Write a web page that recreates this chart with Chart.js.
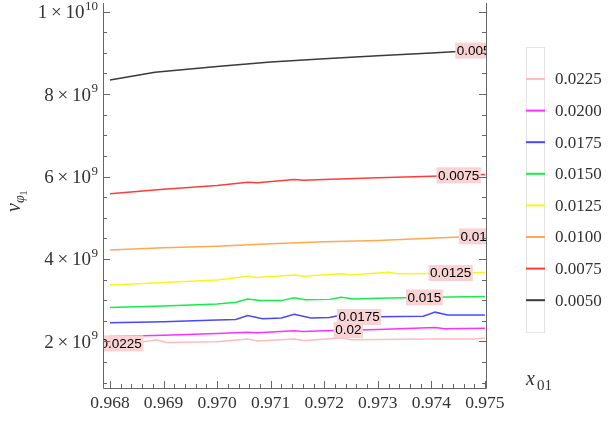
<!DOCTYPE html>
<html>
<head>
<meta charset="utf-8">
<script src="https://cdn.jsdelivr.net/npm/chart.js@4.4.0/dist/chart.umd.min.js"></script>
<style>
  html, body { margin: 0; padding: 0; background: #fff; }
  #wrap { width: 613px; height: 421px; position: relative; }
</style>
</head>
<body>
<div id="wrap"><canvas id="c"></canvas></div>
<script>
// contour values (legend order) and colours
const levels = ['0.0225', '0.0200', '0.0175', '0.0150', '0.0125', '0.0100', '0.0075', '0.0050'];
const tags   = ['0.0225', '0.02', '0.0175', '0.015', '0.0125', '0.01', '0.0075', '0.005'];
const colors = ['#ffbcbc', '#ff30ff', '#4848ff', '#18ec48', '#f6f61a', '#ffa850', '#ff3c3c', '#3a3a3a'];
// x position of each in-plot label (x01 units)
const tagAt  = [0.96821, 0.97245, 0.97265, 0.97387, 0.97436, 0.97479, 0.97451, 0.97479];

// series: x01 values and v (in units of 1e9)
const x_0225 = [0.968, 0.9685, 0.96888, 0.96905, 0.970, 0.97057, 0.97075, 0.97144, 0.97162, 0.97232, 0.9725, 0.974, 0.9748, 0.975];
const v_0225 = [1.94, 1.97, 2.04, 1.975, 1.99, 2.06, 2.01, 2.06, 2.02, 2.08, 2.04, 2.06, 2.06, 2.08];
const x_0200 = [0.968, 0.969, 0.970, 0.97057, 0.97075, 0.97144, 0.9716, 0.972, 0.973, 0.97407, 0.97425, 0.975];
const v_0200 = [2.12, 2.15, 2.19, 2.22, 2.21, 2.26, 2.24, 2.26, 2.29, 2.34, 2.31, 2.32];
const x_0175 = [0.968, 0.969, 0.970, 0.97035, 0.97057, 0.97085, 0.9712, 0.97144, 0.97175, 0.9721, 0.97232, 0.97255, 0.973, 0.97385, 0.97407, 0.9743, 0.975];
const v_0175 = [2.45, 2.48, 2.52, 2.53, 2.63, 2.55, 2.57, 2.66, 2.57, 2.58, 2.64, 2.59, 2.60, 2.61, 2.71, 2.64, 2.64];
const x_0150 = [0.968, 0.969, 0.970, 0.97035, 0.97057, 0.9708, 0.9712, 0.97144, 0.97165, 0.9721, 0.97232, 0.97255, 0.973, 0.974, 0.975];
const v_0150 = [2.82, 2.86, 2.91, 2.95, 3.03, 2.99, 2.99, 3.06, 3.01, 3.02, 3.07, 3.03, 3.05, 3.07, 3.09];
const x_0125 = [0.968, 0.969, 0.970, 0.97057, 0.97075, 0.97144, 0.97162, 0.97232, 0.9725, 0.97319, 0.97337, 0.974, 0.975];
const v_0125 = [3.37, 3.43, 3.49, 3.58, 3.55, 3.61, 3.58, 3.64, 3.61, 3.68, 3.64, 3.65, 3.67];
const x_0100 = [0.968, 0.969, 0.970, 0.971, 0.972, 0.973, 0.97407, 0.975];
const v_0100 = [4.22, 4.27, 4.31, 4.37, 4.42, 4.45, 4.51, 4.56];
const x_0075 = [0.968, 0.969, 0.970, 0.97057, 0.97075, 0.97144, 0.97162, 0.972, 0.973, 0.974, 0.975];
const v_0075 = [5.58, 5.69, 5.78, 5.86, 5.85, 5.93, 5.91, 5.93, 5.97, 6.01, 6.05];
const x_0050 = [0.968, 0.96884, 0.970, 0.971, 0.972, 0.973, 0.974, 0.975];
const v_0050 = [8.34, 8.53, 8.67, 8.78, 8.86, 8.93, 9.00, 9.07];

const xSets = [x_0225, x_0200, x_0175, x_0150, x_0125, x_0100, x_0075, x_0050];
const vSets = [v_0225, v_0200, v_0175, v_0150, v_0125, v_0100, v_0075, v_0050];

// tick labels
const xTicks = [0.968, 0.969, 0.970, 0.971, 0.972, 0.973, 0.974, 0.975];
const yTicks = [2, 4, 6, 8, 10];
const yTickText = [['2', '9'], ['4', '9'], ['6', '9'], ['8', '9'], ['1', '10']];

const SERIF = '"Liberation Serif", "DejaVu Serif", serif';
const SANS = '"Liberation Sans", Arial, sans-serif';

function interp(xs, vs, x) {
    for (let i = 0; i < xs.length - 1; i++) {
        if (x >= xs[i] && x <= xs[i + 1]) {
            const t = (x - xs[i]) / (xs[i + 1] - xs[i]);
            return vs[i] + t * (vs[i + 1] - vs[i]);
        }
    }
    return vs[vs.length - 1];
}

const decor = {
    id: 'decor',
    afterDatasetsDraw(chart) {
        const { ctx, chartArea: a, scales: { x, y } } = chart;
        ctx.save();
        ctx.beginPath();
        ctx.rect(a.left, a.top, a.right - a.left, a.bottom - a.top);
        ctx.clip();
        ctx.font = '13.5px ' + SANS;
        ctx.textAlign = 'center';
        ctx.textBaseline = 'middle';
        tags.forEach((t, i) => {
            const px = x.getPixelForValue(tagAt[i]);
            const py = y.getPixelForValue(interp(xSets[i], vSets[i], tagAt[i]));
            const w = ctx.measureText(t).width + 3;
            ctx.fillStyle = '#f9d3d3';
            ctx.fillRect(px - w / 2, py - 8, w, 16);
            ctx.fillStyle = '#000';
            ctx.fillText(t, px, py + 0.5);
        });
        ctx.restore();
    },
    afterDraw(chart) {
        const { ctx, chartArea: a, scales: { x, y } } = chart;
        ctx.save();
        // frame: left, bottom, right
        ctx.strokeStyle = '#666';
        ctx.lineWidth = 1;
        ctx.beginPath();
        ctx.moveTo(a.left + 0.5, a.top);
        ctx.lineTo(a.left + 0.5, a.bottom + 0.5);
        ctx.lineTo(a.right + 0.5, a.bottom + 0.5);
        ctx.lineTo(a.right + 0.5, a.top);
        ctx.stroke();

        // y ticks, both sides, pointing inward
        ctx.beginPath();
        for (let k = 2; k <= 20; k++) {
            const v = k / 2;
            const py = Math.round(y.getPixelForValue(v)) + 0.5;
            const len = (k % 4 === 0) ? 7 : 4;
            ctx.moveTo(a.left, py); ctx.lineTo(a.left + len, py);
            ctx.moveTo(a.right, py); ctx.lineTo(a.right - len, py);
        }
        // x ticks, pointing up
        for (let k = 0; k <= 35; k++) {
            const v = 0.968 + k * 0.0002;
            const px = Math.round(x.getPixelForValue(v)) + 0.5;
            const len = (k % 5 === 0) ? 7 : 4;
            ctx.moveTo(px, a.bottom); ctx.lineTo(px, a.bottom - len);
        }
        ctx.stroke();

        // y tick labels with superscripts
        ctx.fillStyle = '#333';
        ctx.textBaseline = 'alphabetic';
        yTicks.forEach((v, i) => {
            const py = y.getPixelForValue(v);
            const [m, e] = yTickText[i];
            ctx.font = '13px ' + SERIF;
            const ew = ctx.measureText(e).width;
            const right = 98;
            ctx.textAlign = 'right';
            ctx.fillText(e, right, py - 2);
            ctx.font = '19px ' + SERIF;
            ctx.fillText(m + '\u2009\u00d7\u200910', right - ew - 0.5, py + 6.5);
        });

        // y axis title  v_{phi 1}
        ctx.save();
        ctx.translate(20, 212);
        ctx.rotate(-Math.PI / 2);
        ctx.textAlign = 'left';
        ctx.font = 'italic 20px ' + SERIF;
        ctx.fillText('v', 0, 0);
        let w = ctx.measureText('v').width;
        ctx.font = 'italic 14px ' + SERIF;
        ctx.fillText('\u03c6', w, 4);
        w += ctx.measureText('\u03c6').width;
        ctx.font = '10px ' + SERIF;
        ctx.fillText('1', w, 7);
        ctx.restore();

        // x axis title x_{01}
        ctx.textAlign = 'left';
        ctx.font = 'italic 20px ' + SERIF;
        ctx.fillText('x', 526, 385);
        ctx.font = '15px ' + SERIF;
        ctx.fillText('01', 537, 390);

        // legend
        ctx.strokeStyle = '#e4e4e4';
        ctx.strokeRect(526.5, 47.5, 18, 285);
        levels.forEach((t, i) => {
            const ly = 79 + i * 31.6;
            ctx.strokeStyle = colors[i];
            ctx.lineWidth = 2;
            ctx.beginPath();
            ctx.moveTo(526, ly); ctx.lineTo(545, ly);
            ctx.stroke();
            ctx.fillStyle = '#333';
            ctx.font = '17px ' + SERIF;
            ctx.textBaseline = 'middle';
            ctx.fillText(t, 555, ly + 1);
        });
        ctx.restore();
    }
};

const datasets = levels.map((lv, i) => ({
    label: lv,
    data: xSets[i].map((xv, j) => ({ x: xv, y: vSets[i][j] })),
    borderColor: colors[i],
    borderWidth: 1.5,
    pointRadius: 0,
    tension: 0,
    fill: false
}));

new Chart(document.getElementById('c'), {
    type: 'line',
    data: { datasets },
    options: {
        responsive: true,
        maintainAspectRatio: false,
        animation: false,
        devicePixelRatio: 1,
        layout: { padding: { top: 3, right: 127, left: 0, bottom: 0 } },
        plugins: { legend: { display: false }, tooltip: { enabled: false } },
        scales: {
            x: {
                type: 'linear',
                min: 0.96787,
                max: 0.97502,
                grid: { display: false, drawTicks: false },
                border: { display: false },
                afterBuildTicks: s => { s.ticks = xTicks.map(v => ({ value: v })); },
                afterFit: s => { s.height = 33; },
                ticks: {
                    color: '#333',
                    padding: 5,
                    maxRotation: 0,
                    autoSkip: false,
                    font: { family: SERIF, size: 17.5 },
                    callback: v => v.toFixed(3)
                }
            },
            y: {
                type: 'linear',
                min: 0.87,
                max: 10.21,
                grid: { display: false, drawTicks: false },
                border: { display: false },
                ticks: { display: false },
                afterFit: s => { s.width = 103; }
            }
        }
    },
    plugins: [decor]
});
</script>
</body>
</html>
